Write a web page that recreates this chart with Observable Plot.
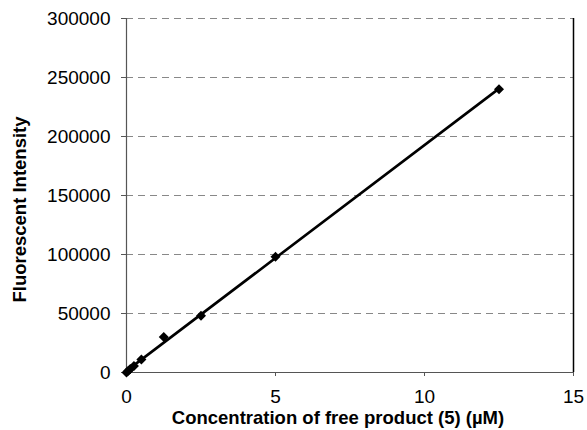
<!DOCTYPE html>
<html>
<head>
<meta charset="utf-8">
<script src="https://cdn.jsdelivr.net/npm/d3@7"></script>
<script src="https://cdn.jsdelivr.net/npm/@observablehq/plot@0.6"></script>
<style>
  html, body { margin: 0; padding: 0; background: #fff; }
  #chart svg { display: block; }
</style>
</head>
<body>
<div id="chart"></div>
<script>
const concentration = [0, 0.0625, 0.125, 0.25, 0.5, 1.25, 2.5, 5, 12.5];
const intensity = [0, 1500, 3000, 5500, 11000, 30000, 48000, 98000, 240000];
const xTicks = [0, 5, 10, 15];
const yTicks = [0, 50000, 100000, 150000, 200000, 250000, 300000];
const gridValues = [50000, 100000, 150000, 200000, 250000, 300000];
const xTitle = "Concentration of free product (5) (\u00b5M)";
const yTitle = "Fluorescent Intensity";

const data = concentration.map((c, i) => ({x: c, y: intensity[i]}));

const chart = Plot.plot({
  width: 587,
  height: 430,
  marginLeft: 126,
  marginRight: 14,
  marginTop: 18,
  marginBottom: 58,
  style: {fontFamily: "'Liberation Sans', Arial, Helvetica, sans-serif", fontSize: "19px", color: "#000", background: "#fff"},
  x: {domain: [0, 15]},
  y: {domain: [0, 300000]},
  marks: [
    Plot.gridY(gridValues, {stroke: "#888", strokeOpacity: 1, strokeDasharray: "7,5", strokeWidth: 1}),
    Plot.ruleX([15], {stroke: "#000", strokeWidth: 1.5}),
    Plot.ruleX([0], {stroke: "#555", strokeWidth: 1.2}),
    Plot.ruleY([0], {stroke: "#555", strokeWidth: 1.2}),
    Plot.axisY({ticks: yTicks, tickFormat: d3.format("d"), tickSize: 5, tickPadding: 11, label: null, fontSize: 19, stroke: "#555"}),
    Plot.axisX({ticks: xTicks, tickFormat: d3.format("d"), tickSize: 4, tickPadding: 13, label: null, fontSize: 19, stroke: "#555"}),
    Plot.linearRegressionY(data, {x: "x", y: "y", ci: 0, stroke: "#000", strokeWidth: 2.6}),
    Plot.dot(data, {x: "x", y: "y", symbol: "diamond2", r: 4.5, fill: "#000", stroke: "none"}),
    Plot.text([yTitle], {frameAnchor: "left", textAnchor: "middle", lineAnchor: "middle", rotate: -90, dx: -106, dy: 14, fontWeight: "bold", fontSize: 18.5, fill: "#000"}),
    Plot.text([xTitle], {frameAnchor: "bottom", textAnchor: "middle", lineAnchor: "middle", dy: 46, dx: -12, fontWeight: "bold", fontSize: 18.5, fill: "#000"})
  ]
});
document.getElementById("chart").appendChild(chart);
</script>
</body>
</html>
